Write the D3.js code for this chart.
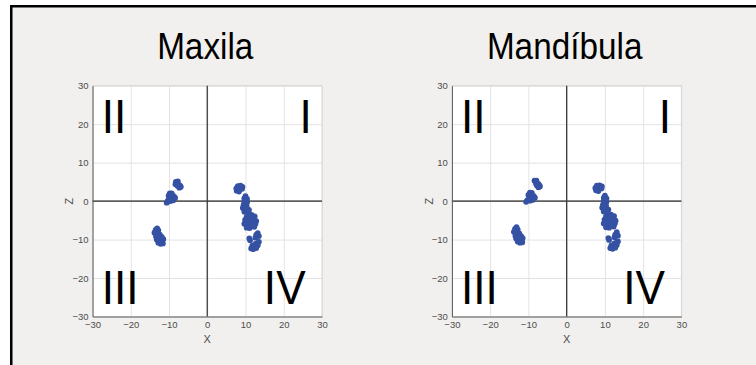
<!DOCTYPE html>
<html><head><meta charset="utf-8">
<script src="https://cdn.jsdelivr.net/npm/d3@7"></script>
<style>html,body{margin:0;padding:0;background:#fff;}svg{display:block;font-family:"Liberation Sans",Arial,sans-serif;}</style>
</head><body><svg id="c" width="756" height="365"></svg>
<script>
// ---- data ----
const titles = ["Maxila", "Mandíbula"];
const tickValues = [-30, -20, -10, 0, 10, 20, 30];
const quadrantLabels = ["I", "II", "III", "IV"];
const axisLabels = ["X", "Z"];

const maxilaPoints = [
  // upper small cluster
  [-8.2,5.0],[-7.7,5.1],[-8.3,4.4],[-7.6,4.4],[-7.1,4.0],[-7.3,3.5],[-6.9,3.7],[-7.8,4.0],
  // cluster near origin line
  [-9.8,2.0],[-9.3,2.0],[-10.1,1.4],[-9.4,1.3],[-8.7,1.2],[-8.4,0.8],[-9.0,0.6],[-9.8,0.6],
  [-10.3,0.1],[-9.6,0.0],[-10.6,-0.4],[-8.9,0.2],[-9.2,1.6],
  // lower left cluster
  [-13.1,-7.1],[-13.5,-7.5],[-12.8,-7.6],[-13.8,-8.2],[-13.1,-8.4],[-12.4,-8.7],[-13.4,-9.2],
  [-12.7,-9.3],[-11.9,-9.3],[-11.5,-9.9],[-13.2,-10.0],[-12.5,-10.1],[-11.8,-10.6],[-12.8,-10.8],
  [-12.2,-11.1],[-11.6,-11.0],[-12.2,-9.8],
  // right top blob
  [8.0,3.9],[8.7,4.0],[9.2,3.7],[7.6,3.3],[8.3,3.2],[9.1,3.2],[7.7,2.7],[8.3,2.5],
  // right column
  [10.0,1.3],[9.7,0.7],[10.4,0.6],[9.7,-0.1],[10.4,-0.3],[10.1,0.1],
  [9.5,-1.0],[10.3,-1.3],[9.3,-1.8],[10.0,-2.0],[10.9,-2.3],[9.7,-2.8],[10.6,-2.9],[10.2,-1.6],
  [10.9,-3.4],[11.6,-3.6],[12.4,-4.0],[10.3,-4.1],[11.2,-4.3],[12.2,-4.7],[12.8,-5.2],
  [9.9,-4.9],[10.8,-5.2],[11.7,-5.5],[12.6,-5.9],[9.7,-5.9],[10.5,-6.3],[11.4,-6.5],
  [12.3,-6.7],[10.3,-6.9],[11.1,-7.0],[11.6,-4.8],[11.1,-6.0],[12.0,-6.2],[10.2,-5.6],[11.9,-4.2],
  // bottom pieces
  [13.2,-8.3],[12.8,-8.8],[13.5,-9.1],[12.6,-9.5],[11.0,-9.7],[11.2,-10.2],[13.5,-10.6],
  [13.0,-11.0],[11.8,-11.6],[12.4,-11.8],[13.2,-11.5],[11.5,-12.3],[12.1,-12.5],[12.8,-12.2],[12.6,-11.1]
];

const mandibulaPoints = [
  [-8.4,5.3],[-7.9,5.3],[-8.0,4.6],[-7.4,4.5],[-7.1,4.1],[-7.4,3.6],[-7.0,3.8],[-7.8,4.1],
  [-9.6,2.2],[-9.1,2.1],[-10.0,1.6],[-9.3,1.5],[-8.6,1.3],[-8.3,0.9],[-9.0,0.7],[-9.8,0.7],
  [-10.3,0.2],[-9.6,0.1],[-10.6,-0.2],[-8.9,0.3],[-9.2,1.8],
  [-13.1,-6.8],[-13.5,-7.2],[-12.8,-7.4],[-13.8,-8.0],[-13.1,-8.1],[-12.4,-8.4],[-13.4,-9.0],
  [-12.7,-9.0],[-11.9,-9.1],[-11.5,-9.6],[-13.2,-9.7],[-12.5,-9.8],[-11.8,-10.3],[-12.8,-10.5],
  [-12.2,-10.8],[-11.6,-10.7],[-12.2,-9.5],
  [7.9,4.0],[8.6,4.1],[9.2,3.8],[7.5,3.4],[8.2,3.3],[9.1,3.3],[7.7,2.8],[8.3,2.6],
  [10.0,1.4],[9.7,0.8],[10.4,0.7],[9.7,0.0],[10.4,-0.2],[10.1,0.2],
  [9.5,-0.9],[10.3,-1.2],[9.3,-1.7],[10.0,-1.9],[10.9,-2.2],[9.7,-2.7],[10.6,-2.8],[10.2,-1.5],
  [10.9,-3.3],[11.6,-3.5],[12.4,-3.9],[10.3,-4.0],[11.2,-4.2],[12.2,-4.6],[12.8,-5.1],
  [9.9,-4.8],[10.8,-5.1],[11.7,-5.4],[12.6,-5.8],[9.7,-5.8],[10.5,-6.2],[11.4,-6.4],
  [12.3,-6.6],[10.3,-6.8],[11.1,-6.9],[11.6,-4.7],[11.1,-5.9],[12.0,-6.1],[10.2,-5.5],[11.9,-4.1],
  [13.1,-8.1],[12.7,-8.7],[13.4,-9.0],[12.5,-9.4],[10.9,-9.6],[11.1,-10.1],[13.4,-10.5],
  [12.9,-10.9],[11.7,-11.5],[12.3,-11.7],[13.1,-11.4],[11.4,-12.2],[12.0,-12.4],[12.7,-12.1],[12.5,-11.0]
];
const datasets = [maxilaPoints, mandibulaPoints];

// ---- drawing ----
const svg = d3.select("#c");
svg.append("rect").attr("x",10).attr("y",5).attr("width",746).attr("height",360).attr("fill","#f1f0ee");
svg.append("rect").attr("x",10).attr("y",5).attr("width",746).attr("height",2.5).attr("fill","#000");
svg.append("rect").attr("x",10).attr("y",5).attr("width",2.5).attr("height",360).attr("fill","#000");

const plots = [{left:92.5}, {left:451.9}];
const plotW = 229.5, plotTop = 85.7, plotH = 230.8;

plots.forEach((p, i) => {
  const x = d3.scaleLinear().domain([-30,30]).range([p.left, p.left + plotW]);
  const y = d3.scaleLinear().domain([-30,30]).range([plotTop + plotH, plotTop]);
  const g = svg.append("g");
  g.append("rect").attr("x",x(-30)).attr("y",y(30)).attr("width",plotW).attr("height",plotH).attr("fill","#fff");
  // grid
  const gx = d3.axisBottom(x).tickValues(tickValues).tickSize(-plotH).tickFormat("");
  const gy = d3.axisLeft(y).tickValues(tickValues).tickSize(-plotW).tickFormat("");
  g.append("g").attr("transform",`translate(0,${y(-30)})`).call(gx)
    .call(s=>{s.select(".domain").remove(); s.selectAll("line").attr("stroke","#e3e3e3");});
  g.append("g").attr("transform",`translate(${x(-30)},0)`).call(gy)
    .call(s=>{s.select(".domain").remove(); s.selectAll("line").attr("stroke","#e3e3e3");});
  // box top/right
  g.append("line").attr("x1",x(-30)).attr("x2",x(30)).attr("y1",y(30)).attr("y2",y(30)).attr("stroke","#d6d6d6");
  g.append("line").attr("x1",x(30)).attr("x2",x(30)).attr("y1",y(30)).attr("y2",y(-30)).attr("stroke","#d6d6d6");
  // axes with labels
  const ax = d3.axisBottom(x).tickValues(tickValues).tickSize(0).tickPadding(5);
  const ay = d3.axisLeft(y).tickValues(tickValues).tickSize(0).tickPadding(4);
  g.append("g").attr("transform",`translate(0,${y(-30)})`).call(ax)
    .call(s=>{s.select(".domain").attr("stroke","#555"); s.selectAll("text").attr("fill","#4d4d4d").attr("font-size",9.5).attr("font-family","Liberation Sans, Arial, sans-serif");});
  g.append("g").attr("transform",`translate(${x(-30)},0)`).call(ay)
    .call(s=>{s.select(".domain").attr("stroke","#555"); s.selectAll("text").attr("fill","#4d4d4d").attr("font-size",9.5).attr("font-family","Liberation Sans, Arial, sans-serif");});
  // zero lines
  g.append("line").attr("x1",x(-30)).attr("x2",x(30)).attr("y1",y(0)).attr("y2",y(0)).attr("stroke","#5e5e5e").attr("stroke-width",1.8);
  g.append("line").attr("x1",x(0)).attr("x2",x(0)).attr("y1",y(30)).attr("y2",y(-30)).attr("stroke","#3c3c3c").attr("stroke-width",1.3);
  // axis labels
  g.append("text").attr("x",x(0)).attr("y",y(-30)+26).attr("text-anchor","middle").attr("font-size",11).attr("fill","#4d4d4d").text(axisLabels[0]);
  g.append("text").attr("transform",`translate(${x(-30)-23},${y(0)}) rotate(-90)`).attr("text-anchor","middle").attr("dy","0.35em").attr("font-size",11).attr("fill","#4d4d4d").text(axisLabels[1]);
  // title
  g.append("text").attr("transform",`translate(${x(0)-2},59) scale(0.98,1.1)`).attr("text-anchor","middle").attr("font-size",34).attr("fill","#000").text(titles[i]);
  // quadrant labels
  const qs = 48;
  const q = (t, dx, dz) => g.append("text").attr("transform",`translate(${x(dx)},${y(dz)}) scale(0.92,1)`).attr("font-size",qs).text(t);
  q(quadrantLabels[0], 24.1, 17.6);
  q(quadrantLabels[1], -27.6, 17.6);
  q(quadrantLabels[2], -27.6, -26.8);
  q(quadrantLabels[3], 14.8, -26.8);
  // points
  g.append("g").selectAll("circle").data(datasets[i]).join("circle")
    .attr("cx",d=>x(d[0])).attr("cy",d=>y(d[1])).attr("r",2.9).attr("fill","#3551a3");
});
</script></body></html>
